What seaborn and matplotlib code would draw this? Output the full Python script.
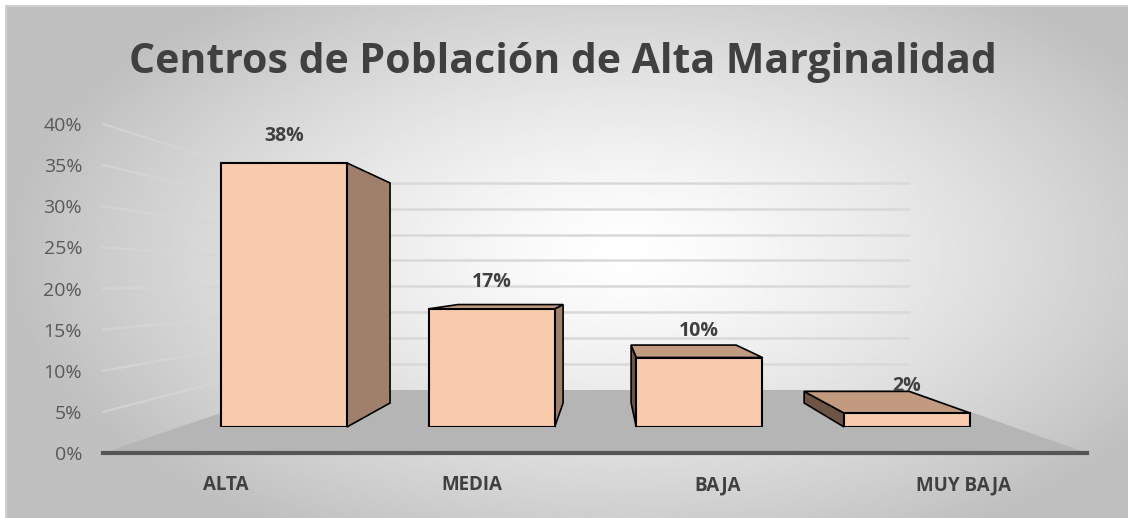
import numpy as np
import matplotlib.pyplot as plt
import seaborn as sns
from matplotlib.patches import Polygon
from matplotlib.ticker import PercentFormatter

# datos
categorias = ['ALTA', 'MEDIA', 'BAJA', 'MUY BAJA']
porcentajes = [0.38, 0.17, 0.10, 0.02]
etiquetas = ['38%', '17%', '10%', '2%']
marcas_y = [0.0, 0.05, 0.10, 0.15, 0.20, 0.25, 0.30, 0.35, 0.40]
titulo = 'Centros de Población de Alta Marginalidad'

sns.set_style('white')
plt.rcParams['font.family'] = ['Open Sans', 'DejaVu Sans']

W, H = 1128, 518
fig = plt.figure(figsize=(W / 100, H / 100), dpi=100)
fig.patch.set_facecolor('white')

# fondo con degradado radial (estilo Excel)
bg = fig.add_axes([0, 0, 1, 1])
yy, xx = np.mgrid[0:H, 0:W]
d = np.sqrt(((xx - 620) / 620) ** 2 + ((yy - 250) / 330) ** 2)
img = 1.0 - 0.25 * np.clip(d, 0, 1) ** 1.3
bg.imshow(img, cmap='gray', vmin=0, vmax=1, extent=[6, W, H, 6], aspect='auto')
bg.plot([6, 6, W], [H, 6, 6], color='#CFCFCF', lw=1.5)
bg.set_xlim(0, W)
bg.set_ylim(H, 0)
bg.axis('off')

# ejes principales: escala, piso y paredes en perspectiva
ax = fig.add_axes([103 / W, (H - 453) / H, 984 / W, 329 / H])
ax.set_xlim(-0.5, 3.5)
ax.set_ylim(0, 0.40)
ax.patch.set_alpha(0)

vp = np.array([1.54, 0.207])   # punto de fuga
prof = 0.37                    # profundidad del piso


def fondo(p, t):
    p = np.asarray(p, dtype=float)
    return p + t * (vp - p)


piso = [(-0.5, 0), (3.5, 0), fondo((3.5, 0), prof), fondo((-0.5, 0), prof)]
ax.add_patch(Polygon(piso, closed=True, facecolor='#B5B5B5', edgecolor='none',
                     clip_on=False, zorder=1))
for v in marcas_y[1:]:
    a = fondo((-0.5, v), prof)
    b = fondo((3.5, v), prof)
    ax.plot([-0.5, a[0]], [v, a[1]], color='#D6D6D6', lw=1.5, alpha=0.8,
            clip_on=False, zorder=0.5)
    ax.plot([a[0], b[0]], [a[1], b[1]], color='#D9D9D9', lw=1.8,
            clip_on=False, zorder=0.5)

ax.set_yticks(marcas_y)
ax.yaxis.set_major_formatter(PercentFormatter(1.0, decimals=0))
ax.set_xticks(range(len(categorias)))
ax.set_xticklabels(categorias, fontweight='bold')
ax.tick_params(axis='y', length=0, pad=15, labelsize=14, labelcolor='#595959')
ax.tick_params(axis='x', length=0, pad=16, labelsize=13.5, labelcolor='#404040')
for s in ['top', 'right', 'left']:
    ax.spines[s].set_visible(False)
ax.spines['bottom'].set_color('#555555')
ax.spines['bottom'].set_linewidth(3)
ax.spines['bottom'].set_zorder(2)

# ejes del plano frontal de las barras
axf = fig.add_axes([180 / W, (H - 427) / H, 831 / W, 278 / H])
sns.barplot(x=categorias, y=porcentajes, color='#F8CBAD', saturation=1,
            edgecolor='black', linewidth=1.5, width=0.607, ax=axf, zorder=3)
axf.set_xlim(-0.5, 3.5)
axf.set_ylim(0, 0.40)
axf.axis('off')

vpf = np.array([1.546, 0.207])
k = 0.167


def atras(p):
    p = np.asarray(p, dtype=float)
    return p + k * (vpf - p)


for p in axf.patches:
    x0, y0 = p.get_x(), p.get_y()
    x1, y1 = x0 + p.get_width(), y0 + p.get_height()
    caras = []
    if x1 < vpf[0]:
        caras.append(([(x1, y0), (x1, y1), atras((x1, y1)), atras((x1, y0))], '#A0806B'))
    if x0 > vpf[0]:
        caras.append(([(x0, y0), (x0, y1), atras((x0, y1)), atras((x0, y0))], '#6E5445'))
    if y1 < vpf[1]:
        caras.append(([(x0, y1), (x1, y1), atras((x1, y1)), atras((x0, y1))], '#C19A80'))
    for pts, c in caras:
        axf.add_patch(Polygon(pts, closed=True, facecolor=c, edgecolor='black',
                              linewidth=1.2, clip_on=False, zorder=2))

axf.bar_label(axf.containers[0], labels=etiquetas, padding=12, fontsize=14,
              fontweight='bold', color='#404040')

fig.text(563 / W, 1 - 73 / H, titulo, ha='center', va='baseline',
         fontsize=29.5, fontweight='bold', color='#404040')

fig.savefig('out.png', dpi=100)
